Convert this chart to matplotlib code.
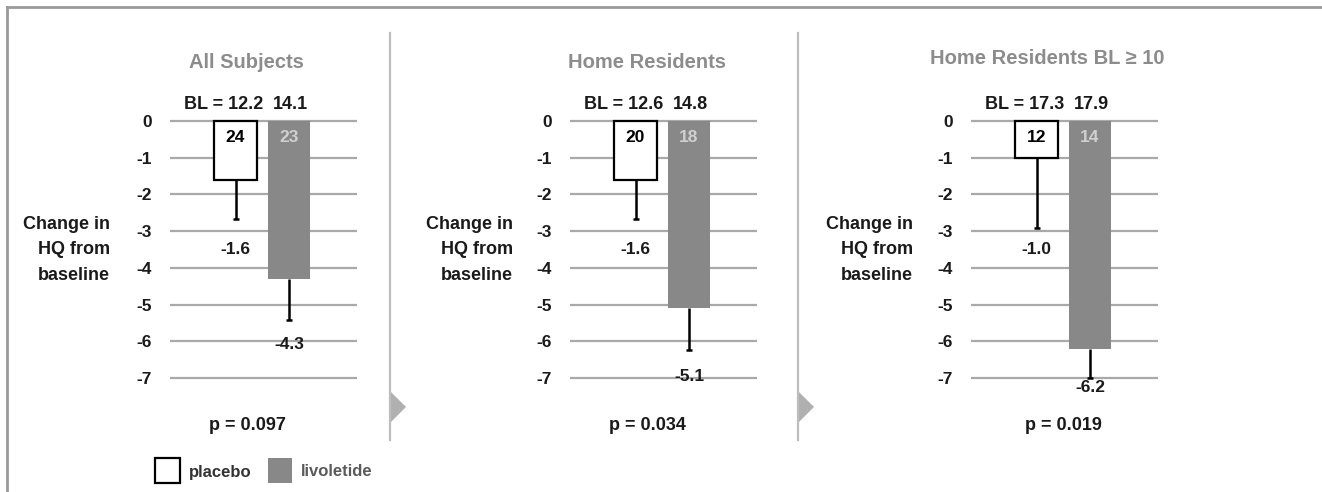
import matplotlib
matplotlib.use("Agg")
import matplotlib.pyplot as plt
from matplotlib.patches import Polygon, Rectangle
from matplotlib.lines import Line2D

plt.rcParams["font.family"] = ["Liberation Sans", "DejaVu Sans"]
plt.rcParams["font.weight"] = "bold"
plt.rcParams["axes.unicode_minus"] = False

# ---- data ----
panel_titles = ["All Subjects", "Home Residents", "Home Residents BL \u2265 10"]
placebo_mean = [-1.6, -1.6, -1.0]
livoletide_mean = [-4.3, -5.1, -6.2]
placebo_err = [1.07, 1.07, 1.92]
livoletide_err = [1.12, 1.14, 0.80]
placebo_n = [24, 20, 12]
livoletide_n = [23, 18, 14]
placebo_bl = ["12.2", "12.6", "17.3"]
livoletide_bl = ["14.1", "14.8", "17.9"]
p_values = ["0.097", "0.034", "0.019"]
y_ticks = [0, -1, -2, -3, -4, -5, -6, -7]
y_label = "Change in\nHQ from\nbaseline"
legend_labels = ["placebo", "livoletide"]

# ---- layout (pixels) ----
W, H = 1322, 492
DPI = 100
fig = plt.figure(figsize=(W / DPI, H / DPI), dpi=DPI, facecolor="white")


def fx(px):
    return px / W


def fy(py):
    return 1 - py / H


GRID_C = "#a9a9a9"
BAR_C = "#888888"
TITLE_C = "#8c8c8c"
TEXT_C = "#1a1a1a"

axes_left = [170, 570, 971]
axes_w = 187
axes_top, axes_bot = 110, 400
title_x = [246, 647, 1047]
title_y = [63, 63, 58]
p_x = [247, 647, 1063]
ylabel_right = [110, 513, 913]
livo_label_y = [-6.1, -6.95, -7.27]
placebo_label_y = -3.5

for i in range(3):
    ax = fig.add_axes([fx(axes_left[i]), fy(axes_bot), fx(axes_w), (axes_bot - axes_top) / H])
    ax.set_xlim(-1.224, 2.27)
    ax.set_ylim(-7.6, 0.3)
    for s in ax.spines.values():
        s.set_visible(False)
    ax.set_xticks([])
    ax.set_yticks(y_ticks)
    ax.set_yticklabels([str(t) for t in y_ticks], fontsize=12.5, fontweight="bold", color=TEXT_C)
    ax.tick_params(axis="y", length=0, pad=13)
    ax.set_facecolor("none")

    for t in y_ticks:
        ax.axhline(t, color=GRID_C, lw=1.6, zorder=0)

    ax.bar([0], [placebo_mean[i]], width=0.8, color="white", edgecolor="black",
           linewidth=1.6, zorder=2)
    ax.bar([1], [livoletide_mean[i]], width=0.8, color=BAR_C, edgecolor="none", zorder=2)

    means = [placebo_mean[i], livoletide_mean[i]]
    errs = [placebo_err[i], livoletide_err[i]]
    ax.errorbar([0, 1], means, yerr=[errs, [0, 0]], fmt="none", ecolor="black",
                elinewidth=1.8, capsize=0, zorder=3)
    ax.plot([0, 1], [m - e for m, e in zip(means, errs)], ls="none", marker="_",
            ms=5, mew=1.8, color="black", zorder=3)

    # counts inside bars
    ax.text(0, -0.46, str(placebo_n[i]), ha="center", va="center", fontsize=12.5,
            fontweight="bold", color="black", zorder=4)
    ax.text(1, -0.46, str(livoletide_n[i]), ha="center", va="center", fontsize=12.5,
            fontweight="bold", color="#d0d0d0", zorder=4)

    # mean labels
    ax.text(0, placebo_label_y, f"{placebo_mean[i]:.1f}", ha="center", va="center",
            fontsize=12.5, fontweight="bold", color=TEXT_C, zorder=4)
    ax.text(1, livo_label_y[i], f"{livoletide_mean[i]:.1f}", ha="center", va="center",
            fontsize=12.5, fontweight="bold", color=TEXT_C, zorder=4, clip_on=False)

    # baseline labels
    ax.text(0.52, 0.44, f"BL = {placebo_bl[i]}", ha="right", va="center", fontsize=13,
            fontweight="bold", color=TEXT_C, clip_on=False)
    ax.text(1.02, 0.44, livoletide_bl[i], ha="center", va="center", fontsize=13,
            fontweight="bold", color=TEXT_C, clip_on=False)

    # panel title, y label, p-value
    fig.text(fx(title_x[i]), fy(title_y[i]), panel_titles[i], ha="center", va="center",
             fontsize=14.5, fontweight="bold", color=TITLE_C)
    fig.text(fx(ylabel_right[i]), fy(250), y_label, ha="right", va="center",
             multialignment="right", fontsize=13, fontweight="bold", color=TEXT_C,
             linespacing=1.62)
    fig.text(fx(p_x[i]), fy(425), f"p = {p_values[i]}", ha="center", va="center",
             fontsize=13, fontweight="bold", color=TEXT_C)

# panel dividers with arrow heads
for xd in [390, 798]:
    fig.add_artist(Line2D([fx(xd), fx(xd)], [fy(33), fy(440)], color="#bdbdbd", lw=1.6))
    fig.add_artist(Polygon([(fx(xd + 1), fy(392)), (fx(xd + 1), fy(422)), (fx(xd + 16), fy(407))],
                           closed=True, facecolor="#b0b0b0", edgecolor="none"))

# outer frame (top and left edges)
fig.add_artist(Line2D([fx(7), fx(W)], [fy(7), fy(7)], color="#9a9a9a", lw=2))
fig.add_artist(Line2D([fx(7), fx(7)], [fy(7), fy(H)], color="#9a9a9a", lw=2))

# legend
fig.add_artist(Rectangle((fx(155), fy(483)), fx(25), 25 / H, facecolor="white",
                         edgecolor="black", lw=1.6))
fig.text(fx(189), fy(472), legend_labels[0], ha="left", va="center", fontsize=12,
         fontweight="bold", color="#333333")
fig.add_artist(Rectangle((fx(268), fy(483)), fx(24), 25 / H, facecolor=BAR_C,
                         edgecolor="none"))
fig.text(fx(301), fy(472), legend_labels[1], ha="left", va="center", fontsize=12,
         fontweight="bold", color="#5a5a5a")

fig.savefig("out.png", dpi=DPI, facecolor="white")
